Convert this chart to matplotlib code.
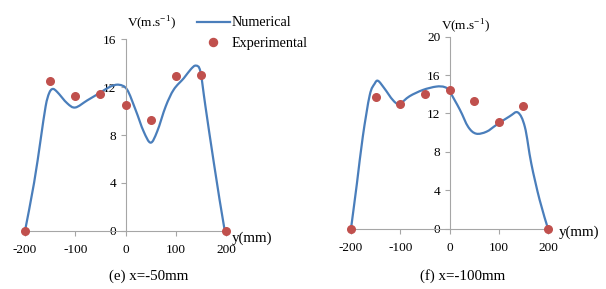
import matplotlib
matplotlib.use("Agg")
import matplotlib.pyplot as plt
from matplotlib.path import Path
from matplotlib.patches import PathPatch
from matplotlib.lines import Line2D

plt.rcParams['font.family'] = ['Liberation Serif', 'DejaVu Serif']
plt.rcParams['axes.unicode_minus'] = False

# panel (e) x=-50mm
num_e_y = [-200, -182, -169, -159, -152, -145, -136, -116, -100, -76, -50, -30, -13, 3,
           20, 36, 50, 63, 80, 96, 116, 130, 140, 149, 159, 176, 196, 200]
num_e_v = [0, 4.0, 7.6, 10.4, 11.5, 11.85, 11.6, 10.65, 10.3, 10.9, 11.55, 12.05, 12.2, 11.8,
           10.1, 8.3, 7.36, 8.3, 10.4, 11.8, 12.75, 13.5, 13.8, 13.3, 10.4, 5.6, 0.35, 0]
exp_e_y = [-200, -150, -100, -50, 0, 50, 100, 150, 200]
exp_e_v = [0, 12.55, 11.25, 11.4, 10.55, 9.25, 12.9, 13.05, 0]

# panel (f) x=-100mm
num_f_y = [-200, -188, -176, -162, -152, -145, -132, -115, -102, -81, -54, -27, -10, 0,
           21, 38, 54, 75, 95, 122, 139, 153, 166, 183, 200]
num_f_v = [0, 4.7, 9.6, 13.9, 15.1, 15.4, 14.6, 13.4, 13.0, 13.8, 14.45, 14.8, 14.75, 14.3,
           12.4, 10.6, 9.9, 10.1, 10.8, 11.7, 12.1, 10.6, 6.8, 3.0, 0]
exp_f_y = [-200, -150, -100, -50, 0, 50, 100, 150, 200]
exp_f_v = [0, 13.75, 12.95, 14.0, 14.45, 13.35, 11.1, 12.8, 0]

x_ticks = [-200, -100, 0, 100, 200]

BLUE = '#4a7ebb'
RED = '#c0504d'
AXC = '#a6a6a6'
FS = 9.5

fig = plt.figure(figsize=(6.06, 2.89), dpi=100)


def smooth_path(xs, ys):
    # Excel-style smoothed line: Catmull-Rom segments drawn as cubic Beziers
    verts = [(xs[0], ys[0])]
    codes = [Path.MOVETO]
    n = len(xs)
    for i in range(n - 1):
        x0, y0 = (xs[i - 1], ys[i - 1]) if i > 0 else (xs[i], ys[i])
        x1, y1 = xs[i], ys[i]
        x2, y2 = xs[i + 1], ys[i + 1]
        x3, y3 = (xs[i + 2], ys[i + 2]) if i + 2 < n else (x2, y2)
        verts += [(x1 + (x2 - x0) / 6, y1 + (y2 - y0) / 6),
                  (x2 - (x3 - x1) / 6, y2 - (y3 - y1) / 6),
                  (x2, y2)]
        codes += [Path.CURVE4] * 3
    return Path(verts, codes)


def panel(rect, ny, nv, ey, ev, ymax, caption, cap_x):
    ax = fig.add_axes(rect)
    ax.add_patch(PathPatch(smooth_path(ny, nv), facecolor='none', edgecolor=BLUE, lw=1.6,
                           capstyle='round', joinstyle='round', clip_on=False, zorder=2))
    ax.scatter(ey, ev, s=30, color=RED, clip_on=False, zorder=3)
    ax.set_xlim(-200, 200)
    ax.set_ylim(0, ymax)
    ax.spines['top'].set_visible(False)
    ax.spines['right'].set_visible(False)
    ax.spines['left'].set_position(('data', 0))
    for s in ('left', 'bottom'):
        ax.spines[s].set_color(AXC)
        ax.spines[s].set_linewidth(0.8)
    ax.set_xticks(x_ticks)
    ax.set_yticks(range(0, ymax + 1, 4))
    ax.tick_params(axis='both', colors=AXC, labelcolor='black', labelsize=FS,
                   direction='out', length=3.5, width=0.8)
    ax.tick_params(axis='x', pad=6)
    ax.tick_params(axis='y', pad=3)
    ax.patch.set_visible(False)
    fig.text(cap_x, 1 - 276 / 289, caption, ha='center', va='center', fontsize=10.8)
    return ax


ax1 = panel([0.0413, 0.2017, 0.3317, 0.6623], num_e_y, num_e_v, exp_e_y, exp_e_v,
            16, '(e) x=-50mm', 149 / 606)
fig.text(232 / 606, 1 - 238 / 289, 'y(mm)', ha='left', va='center', fontsize=10.8)
fig.text(127 / 606, 1 - 22.7 / 289, r'V(m.s$^{\mathregular{-1}}$)', ha='left', va='center',
         fontsize=FS)
handles = [Line2D([], [], color=BLUE, lw=1.6),
           Line2D([], [], color=RED, lw=0, marker='o', markersize=5.8)]
fig.legend(handles, ['Numerical', 'Experimental'], loc='upper left',
           bbox_to_anchor=(197 / 606, 1 - 16.5 / 289), frameon=False, fontsize=10.2,
           handlelength=2.3, handletextpad=0.15, labelspacing=0.55, borderpad=0,
           borderaxespad=0)

ax2 = panel([0.5792, 0.2087, 0.3251, 0.6644], num_f_y, num_f_v, exp_f_y, exp_f_v,
            20, '(f) x=-100mm', 463 / 606)
fig.text(559 / 606, 1 - 232 / 289, 'y(mm)', ha='left', va='center', fontsize=10.8)
fig.text(441 / 606, 1 - 26 / 289, r'V(m.s$^{\mathregular{-1}}$)', ha='left', va='center',
         fontsize=FS)

fig.savefig('out.png', dpi=100)
